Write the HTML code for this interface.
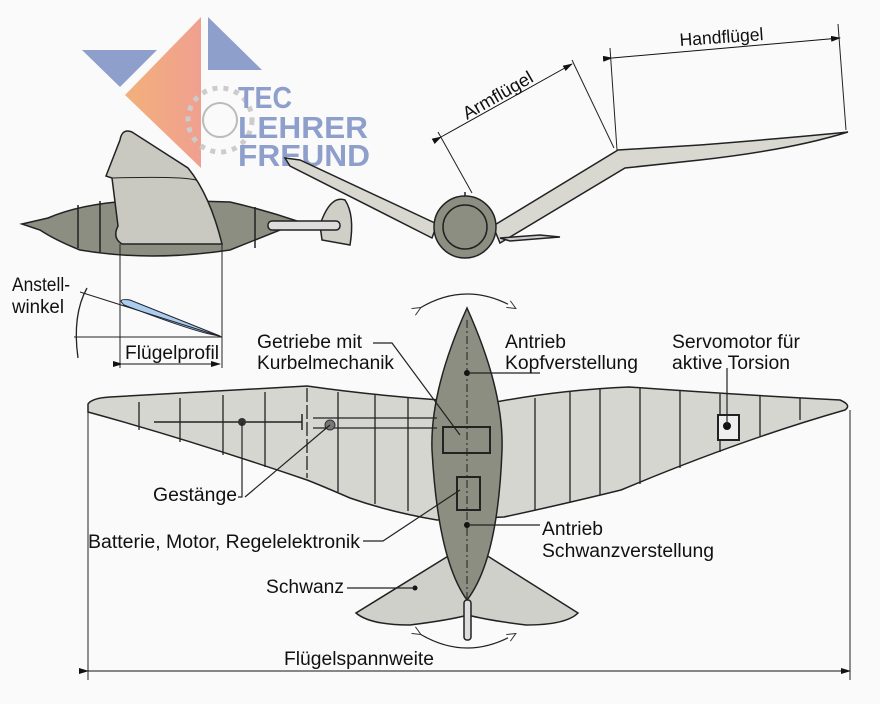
<!DOCTYPE html>
<html><head><meta charset="utf-8"><style>
html,body{margin:0;padding:0;background:#fafafa}
svg{display:block}
text{font-family:"Liberation Sans",sans-serif;fill:#111}
</style></head><body>
<svg width="880" height="704" viewBox="0 0 880 704" xmlns="http://www.w3.org/2000/svg">
<defs>
<linearGradient id="og" x1="0" x2="1"><stop offset="0" stop-color="#f2b07a"/><stop offset="1" stop-color="#f0a090"/></linearGradient>
<marker id="ah" markerWidth="10" markerHeight="6" refX="9" refY="3" orient="auto" markerUnits="userSpaceOnUse"><path d="M0,0 L10,3 L0,6z" fill="#111"/></marker>
<marker id="ao" markerWidth="10" markerHeight="8" refX="8" refY="4" orient="auto" markerUnits="userSpaceOnUse"><path d="M0,0 L9,4 L0,8" fill="#fff" stroke="#333"/></marker>
</defs>
<rect width="880" height="704" fill="#fafafa"/>

<!-- side view bird -->
<g stroke="#222" stroke-width="1.5">
<path d="M22,224 L48,218 Q90,200 160,200 L230,202 Q265,210 300,222 Q265,236 230,250 Q150,262 80,250 Q55,240 40,230 Z" fill="#8b8e80"/>
<line x1="78" y1="205" x2="78" y2="248"/><line x1="100" y1="201" x2="100" y2="253"/><line x1="255" y1="207" x2="255" y2="248"/>
<path d="M120,140 Q122,128 132,132 L188,168 Q210,195 222,244 L122,244 Q112,238 118,226 L112,178 L106,176 Z" fill="#c9c9c1"/>
<path d="M112,178 Q180,176 196,180" fill="none" stroke-width="1"/>
<path d="M320,225 Q330,195 345,200 Q355,215 350,245 L322,240 Z" fill="#cfcfc8"/>
<rect x="268" y="221" width="72" height="9" rx="4" fill="#ddd"/>
</g>
<line x1="120" y1="244" x2="120" y2="368" stroke="#222"/>
<line x1="222" y1="244" x2="222" y2="368" stroke="#222"/>
<path d="M124,305 Q116,298 130,300 L220,336 Q200,334 124,305Z" fill="#aacdf0" stroke="#223" stroke-width="1"/>
<line x1="80" y1="292" x2="222" y2="337" stroke="#222"/>
<line x1="74" y1="337" x2="222" y2="337" stroke="#222"/>
<path d="M87,288 Q72,315 78,358" fill="none" stroke="#222" stroke-width="1.3"/>
<line x1="122" y1="364" x2="220" y2="364" stroke="#111" marker-start="url(#ah)" marker-end="url(#ah)"/>

<!-- logo -->
<polygon points="82,50 157,50 120,87" fill="#8e9fcc"/>
<polygon points="201,17 125,95 201,168" fill="url(#og)"/>
<polygon points="208,17 208,70 262,70" fill="#8e9fcc"/>
<circle cx="220" cy="120" r="32" fill="none" stroke="#ccc" stroke-width="5" stroke-dasharray="5 6"/>
<circle cx="220" cy="120" r="17" fill="none" stroke="#bbb" stroke-width="2"/>
<g font-weight="bold" font-size="31">
<text x="238" y="108" style="fill:#8e9fcc" textLength="54" lengthAdjust="spacingAndGlyphs">TEC</text>
<text x="238" y="138" style="fill:#8e9fcc" textLength="130" lengthAdjust="spacingAndGlyphs">LEHRER</text>
<text x="238" y="166" style="fill:#8e9fcc" textLength="132" lengthAdjust="spacingAndGlyphs">FREUND</text>
</g>

<!-- front view -->
<g stroke="#222" stroke-width="1.5">
<path d="M285,158 L300,160 L437,224 L432,238 L290,166 Z" fill="#d8d8d0"/>
<path d="M493,226 L618,150 L700,145 Q800,137 848,132 Q790,150 700,160 L625,168 L500,243 Z" fill="#d8d8d0"/>
<path d="M500,238 L540,235 L560,237 L510,241Z" fill="#ccc"/>
<circle cx="465" cy="227" r="31" fill="#8b8e80"/>
<circle cx="465" cy="227" r="22" fill="none"/>
<line x1="465" y1="196" x2="465" y2="192"/>
</g>
<line x1="438" y1="132" x2="472" y2="193" stroke="#222"/>
<line x1="572" y1="60" x2="614" y2="148" stroke="#222"/>
<line x1="441" y1="137" x2="572" y2="64" stroke="#111" marker-start="url(#ah)" marker-end="url(#ah)"/>
<line x1="610" y1="48" x2="617" y2="150" stroke="#222"/>
<line x1="838" y1="24" x2="846" y2="130" stroke="#222"/>
<line x1="612" y1="58" x2="840" y2="38" stroke="#111" marker-start="url(#ah)" marker-end="url(#ah)"/>
<text x="0" y="0" font-size="18" transform="translate(467,120) rotate(-30)" textLength="78" lengthAdjust="spacingAndGlyphs">Armflügel</text>
<text x="0" y="0" font-size="18" transform="translate(680,46) rotate(-4)" textLength="84" lengthAdjust="spacingAndGlyphs">Handflügel</text>

<!-- top view -->
<g stroke="#222" stroke-width="1.5">
<path d="M88,404 Q92,398 110,397 Q230,390 307,386 Q370,395 440,400 L496,402 Q560,390 629,387 Q740,395 840,400 Q852,405 845,410 Q740,440 621,490 Q560,505 504,517 L437,520 Q390,512 350,498 Q320,485 307,480 Q190,440 88,412 Z" fill="#d6d6d0"/>
<g stroke-width="1.3">
<line x1="139" y1="402" x2="139" y2="430"/><line x1="180" y1="398" x2="180" y2="442"/><line x1="223" y1="395" x2="223" y2="455"/><line x1="265" y1="392" x2="265" y2="467"/><line x1="307" y1="388" x2="307" y2="478" stroke-dasharray="14 3"/><line x1="338" y1="392" x2="338" y2="492"/><line x1="375" y1="394" x2="375" y2="504"/><line x1="408" y1="397" x2="408" y2="511"/>
<line x1="535" y1="398" x2="535" y2="510"/><line x1="570" y1="392" x2="570" y2="502"/><line x1="600" y1="389" x2="600" y2="495"/><line x1="640" y1="388" x2="640" y2="484"/><line x1="680" y1="391" x2="680" y2="468"/><line x1="720" y1="394" x2="720" y2="452"/><line x1="760" y1="396" x2="760" y2="436"/><line x1="800" y1="398" x2="800" y2="420"/>
</g>
<path d="M458,550 L356,613 Q370,625 410,625 Q450,620 468,615 Q486,620 526,625 Q566,625 578,613 L478,550 Z" fill="#d0d0ca"/>
<path d="M467,308 Q430,390 432,450 Q438,560 467,600 Q498,560 502,450 Q504,390 467,308 Z" fill="#8b8e80"/>
<rect x="464" y="600" width="7" height="40" rx="3" fill="#ddd"/>
<line x1="467" y1="320" x2="467" y2="598" stroke-dasharray="8 3 2 3" stroke-width="1"/>
<rect x="443" y="427" width="47" height="26" fill="none" stroke-width="2"/>
<rect x="457" y="477" width="23" height="33" fill="none" stroke-width="2"/>
<rect x="718" y="415" width="21" height="25" fill="#eee" stroke-width="2"/>
<line x1="154" y1="422" x2="302" y2="422"/>
<line x1="313" y1="418" x2="437" y2="418" stroke-width="1.2"/><line x1="313" y1="428" x2="437" y2="428" stroke-width="1.2"/>
<line x1="302" y1="414" x2="302" y2="430"/>
</g>
<circle cx="242" cy="422" r="4" fill="#333"/>
<circle cx="330" cy="425" r="5" fill="#777" stroke="#333"/>
<circle cx="727" cy="426" r="4" fill="#111"/>
<circle cx="467" cy="373" r="3" fill="#111"/>
<circle cx="467" cy="525" r="3" fill="#111"/>
<circle cx="415" cy="588" r="2.5" fill="#111"/>
<g fill="none" stroke="#222" stroke-width="1.2">
<path d="M420,308 Q467,280 515,308" marker-start="url(#ao)" marker-end="url(#ao)"/>
<path d="M420,634 Q467,662 515,634" marker-start="url(#ao)" marker-end="url(#ao)"/>
<polyline points="373,343 392,343 460,435"/>
<polyline points="467,373 540,373"/>
<polyline points="727,426 727,368"/>
<polyline points="242,422 242,497 238,497"/>
<polyline points="330,425 245,497"/>
<polyline points="363,541 383,541 460,490"/>
<polyline points="467,525 540,525"/>
<polyline points="347,588 415,588"/>
</g>
<line x1="88" y1="412" x2="88" y2="680" stroke="#222"/>
<line x1="850" y1="410" x2="850" y2="680" stroke="#222"/>
<line x1="88" y1="671" x2="850" y2="671" stroke="#111" marker-start="url(#ah)" marker-end="url(#ah)"/>

<g font-size="19">
<text x="12" y="291" textLength="58" lengthAdjust="spacingAndGlyphs">Anstell-</text><text x="12" y="313" textLength="52" lengthAdjust="spacingAndGlyphs">winkel</text>
<text x="125" y="359" textLength="94" lengthAdjust="spacingAndGlyphs">Flügelprofil</text>
<text x="257" y="348" textLength="105" lengthAdjust="spacingAndGlyphs">Getriebe mit</text>
<text x="257" y="369" textLength="137" lengthAdjust="spacingAndGlyphs">Kurbelmechanik</text>
<text x="505" y="348" textLength="61" lengthAdjust="spacingAndGlyphs">Antrieb</text>
<text x="505" y="369" textLength="133" lengthAdjust="spacingAndGlyphs">Kopfverstellung</text>
<text x="672" y="348" textLength="128" lengthAdjust="spacingAndGlyphs">Servomotor für</text>
<text x="672" y="369" textLength="118" lengthAdjust="spacingAndGlyphs">aktive Torsion</text>
<text x="153" y="501" textLength="84" lengthAdjust="spacingAndGlyphs">Gestänge</text>
<text x="88" y="548" textLength="272" lengthAdjust="spacingAndGlyphs">Batterie, Motor, Regelelektronik</text>
<text x="542" y="535" textLength="61" lengthAdjust="spacingAndGlyphs">Antrieb</text>
<text x="542" y="557" textLength="172" lengthAdjust="spacingAndGlyphs">Schwanzverstellung</text>
<text x="266" y="593" textLength="78" lengthAdjust="spacingAndGlyphs">Schwanz</text>
<text x="284" y="665" textLength="150" lengthAdjust="spacingAndGlyphs">Flügelspannweite</text>
</g>
</svg>
</body></html>
